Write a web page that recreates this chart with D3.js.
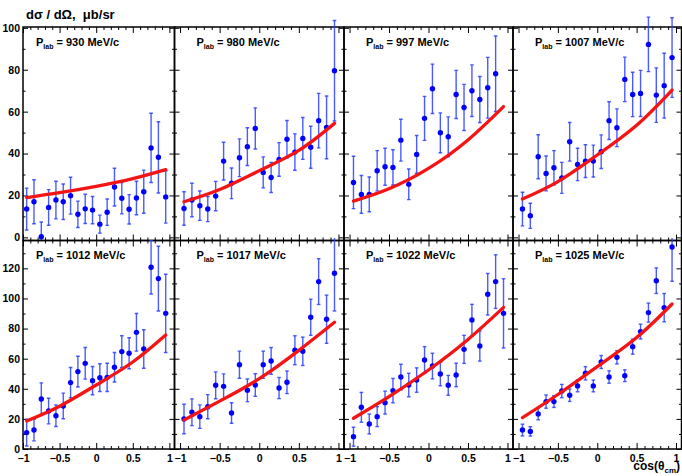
<!DOCTYPE html>
<html>
<head>
<meta charset="utf-8">
<script src="https://cdn.jsdelivr.net/npm/d3@7"></script>
<style>
  body { margin: 0; background: #fff; }
  svg { display: block; font-family: "Liberation Sans", Arial, sans-serif; font-weight: bold; }
</style>
</head>
<body>
<div id="chart"></div>
<script>
// cos(theta_cm) bin centres
const cosTheta = [-0.95, -0.85, -0.75, -0.65, -0.55, -0.45, -0.35, -0.25, -0.15, -0.05,
                  0.05, 0.15, 0.25, 0.35, 0.45, 0.55, 0.65, 0.75, 0.85, 0.95];
const momenta = [930, 980, 997, 1007, 1012, 1017, 1022, 1025];

// dsigma/dOmega (mub/sr) and errors
const xs930  = [13.5, 17, 0.3, 14.3, 17.8, 17, 19.9, 11, 13.6, 13, 6.3, 12, 24, 18.7, 13.4, 18.8, 21.8, 42.7, 38.2, 19.3];
const er930  = [10, 10.5, 7, 8.5, 9, 8.5, 8.8, 6.3, 7, 6.5, 4.3, 6.3, 9, 7.5, 7, 8, 10.3, 16.5, 17, 12.5];
const xs980  = [13.8, 17.8, 15.1, 13.5, 19.7, 36.4, 25.8, 38, 43.3, 52, 31, 28.6, 37.2, 46.8, 40.7, 47.2, 43, 55.7, 52.5, 79.5];
const er980  = [8, 8, 7, 6, 7, 9, 7.3, 9, 9, 9.8, 7.4, 7.2, 8, 9, 8.7, 10, 10, 13, 15, 24];
const xs997  = [26.2, 20.5, 20.5, 31.8, 33.7, 33.4, 46.4, 25.3, 39.6, 56.8, 70.9, 49.9, 48, 68.2, 62, 70, 65.8, 71.4, 78.1, null];
const er997  = [12.5, 9, 8.3, 9.6, 8.8, 8.4, 10, 7.3, 9, 10.5, 11.8, 9.5, 9.5, 11.5, 11, 12.3, 11, 14.5, 18, null];
const xs1007 = [13.5, 10.3, 38.5, 30.5, 33.2, 28.4, 45.6, 34.8, 36.4, 36.4, 40.9, 55.7, 52.3, 75.4, 68.2, 68.7, 92.1, 67.9, 72.4, 85.8];
const er1007 = [8, 6, 10.5, 8.3, 8.2, 7.4, 9.2, 7.7, 7.8, 7.6, 8, 9, 9, 10.6, 10.6, 11, 13, 13, 15.5, 19];
const xs1012 = [10.9, 12.6, 33.2, 25.2, 22.1, 28.6, 44.1, 51.4, 56.9, 45.4, 47.4, 47.6, 54.3, 64.7, 63.6, 77.5, 66.4, 120.7, 113.2, 90.1];
const er1012 = [8.9, 7.2, 10.7, 8.5, 7.2, 8.5, 10, 10.2, 10.5, 9.4, 9.2, 9.4, 9.8, 10.5, 10.3, 12.5, 12.8, 17.7, 21.5, 26];
const xs1017 = [19.9, 24.4, 21.5, 28.1, 42.3, 41.6, 23.9, 56, 39, 42.5, 56, 58.5, 40.5, 44.3, 65.6, 64.9, 87.5, 111.2, 86.2, 116.7];
const er1017 = [9.8, 8.9, 7.8, 8, 8.9, 8.3, 6.8, 9, 7.5, 7.5, 9, 8.9, 7, 7.5, 9.6, 9.4, 12, 15.2, 16, 25];
const xs1022 = [8.2, 27.7, 16.6, 21.5, 30.8, 38.8, 47.8, 42.5, 45.8, 59.1, 55.1, 49.8, 42.3, 49.2, 66.2, 85.7, 68.4, 102.8, 111.2, 90.1];
const er1022 = [6.3, 9.9, 6.6, 6.6, 7.6, 8.1, 8.5, 7.8, 8.1, 8.9, 8.5, 7.8, 6.6, 7.8, 9.3, 10.4, 10, 13.8, 17.8, 23];
const xs1025 = [12.6, 11.7, 23.3, 31.5, 31.5, 38.5, 35.7, 41.9, 50.3, 41.9, 57.8, 47.8, 60.9, 48.7, 68, 78, 90.6, 111.8, 93.9, 134.2];
const er1025 = [3.9, 3.1, 3.9, 4.4, 3.9, 4.4, 4.1, 3.9, 4.4, 3.9, 4.3, 4.1, 4.4, 3.9, 5, 4.9, 6.3, 8.5, 9.4, 22.8];

// model curves, sampled from the figure
const curveX   = [-0.95, -0.5, 0, 0.5, 0.95];
const fit930   = [19, 21.3, 24.3, 28, 32.3];
const fit980   = [17, 22.8, 31.8, 41.5, 54.4];
const fit997   = [17.3, 23.2, 32.9, 46.5, 62.4];
const fit1007  = [18.3, 26.6, 39.3, 53.5, 70.3];
const fit1012  = [18.6, 28.4, 42.5, 57.8, 75.7];
const fit1017  = [19.3, 31.8, 46.7, 65.5, 84.2];
const fit1022  = [20.4, 34.8, 52.5, 72.8, 94.1];
const fit1025  = [20.8, 36.2, 54.7, 74, 96.3];

const yTicksTop = [0, 20, 40, 60, 80, 100];
const yMinorTop = [10, 30, 50, 70, 90];
const yTicksBottom = [0, 20, 40, 60, 80, 100, 120];
const yMinorBottom = [10, 30, 50, 70, 90, 110, 130];
const xTicks = [-1, -0.5, 0, 0.5, 1];
const xMinor = [-0.9, -0.8, -0.7, -0.6, -0.4, -0.3, -0.2, -0.1, 0.1, 0.2, 0.3, 0.4, 0.6, 0.7, 0.8, 0.9];

const values = [xs930, xs980, xs997, xs1007, xs1012, xs1017, xs1022, xs1025];
const errors = [er930, er980, er997, er1007, er1012, er1017, er1022, er1025];
const fits = [fit930, fit980, fit997, fit1007, fit1012, fit1017, fit1022, fit1025];

// layout
const W = 682, H = 476;
const cols = [
  { x0: 23, x1: 174.5, dom: [-1.0, 1.07], lab: 36 },
  { x0: 174.5, x1: 344, dom: [-1.07, 1.07], lab: 196.5 },
  { x0: 344, x1: 513, dom: [-1.07, 1.07], lab: 366 },
  { x0: 513, x1: 681.5, dom: [-1.07, 1.07], lab: 535 }
];
const rows = [
  { y0: 27, y1: 240.5, dom: [-1.5, 100.4], ticks: yTicksTop, minor: yMinorTop, clipTop: 0 },
  { y0: 240.5, y1: 449, dom: [0, 138.5], ticks: yTicksBottom, minor: yMinorBottom, clipTop: 238 }
];

const svg = d3.select('#chart').append('svg').attr('width', W).attr('height', H);
const fmt = d3.format('~g');

momenta.forEach((p, i) => {
  const r = Math.floor(i / 4), c = i % 4;
  const col = cols[c], row = rows[r];
  const w = col.x1 - col.x0, h = row.y1 - row.y0;
  const x = d3.scaleLinear().domain(col.dom).range([0, w]);
  const y = d3.scaleLinear().domain(row.dom).range([h, 0]);

  const g = svg.append('g').attr('transform', `translate(${col.x0},${row.y0})`);

  svg.append('clipPath').attr('id', `clip${i}`).append('rect')
    .attr('x', -2).attr('y', row.clipTop - row.y0).attr('width', w + 4).attr('height', row.y1 - row.clipTop);

  // axes, ticks inside the frame on all sides
  const axisStyle = sel => {
    sel.select('.domain').remove();
    sel.selectAll('.tick line').attr('stroke', '#000').attr('stroke-width', 1);
    sel.selectAll('.tick text').attr('font-size', 10.5).attr('font-weight', 'bold').attr('fill', '#000')
      .attr('font-family', '"Liberation Sans", Arial, sans-serif');
  };
  g.append('g').call(d3.axisLeft(y).tickValues(row.ticks).tickSize(-5).tickPadding(3)
    .tickFormat(c === 0 ? fmt : () => '')).call(axisStyle);
  g.append('g').call(d3.axisLeft(y).tickValues(row.minor).tickSize(-2.5).tickFormat(() => '')).call(axisStyle);
  g.append('g').attr('transform', `translate(${w},0)`)
    .call(d3.axisRight(y).tickValues(row.ticks).tickSize(-5).tickFormat(() => '')).call(axisStyle);
  g.append('g').attr('transform', `translate(${w},0)`)
    .call(d3.axisRight(y).tickValues(row.minor).tickSize(-2.5).tickFormat(() => '')).call(axisStyle);
  g.append('g').attr('transform', `translate(0,${h})`)
    .call(d3.axisBottom(x).tickValues(xTicks).tickSize(-6).tickPadding(6)
      .tickFormat(r === 1 ? fmt : () => '')).call(axisStyle);
  g.append('g').attr('transform', `translate(0,${h})`)
    .call(d3.axisBottom(x).tickValues(xMinor).tickSize(-3).tickFormat(() => '')).call(axisStyle);
  g.append('g').call(d3.axisTop(x).tickValues(xTicks).tickSize(-6).tickFormat(() => '')).call(axisStyle);
  g.append('g').call(d3.axisTop(x).tickValues(xMinor).tickSize(-3).tickFormat(() => '')).call(axisStyle);

  g.append('rect').attr('width', w).attr('height', h)
    .attr('fill', 'none').attr('stroke', '#000').attr('stroke-width', 1.5);

  // data points with error bars
  const pts = cosTheta.map((cx, k) => ({ cx, v: values[i][k], e: errors[i][k] })).filter(d => d.v != null);
  const data = g.append('g').attr('clip-path', `url(#clip${i})`);
  const eb = data.selectAll('g.eb').data(pts).join('g').attr('class', 'eb')
    .attr('stroke', '#2a3fff').attr('stroke-width', 1.4).attr('stroke-opacity', 0.85);
  eb.append('line').attr('x1', d => x(d.cx)).attr('x2', d => x(d.cx))
    .attr('y1', d => y(d.v - d.e)).attr('y2', d => y(d.v + d.e));
  eb.append('line').attr('x1', d => x(d.cx) - 1.8).attr('x2', d => x(d.cx) + 1.8)
    .attr('y1', d => y(d.v - d.e)).attr('y2', d => y(d.v - d.e));
  eb.append('line').attr('x1', d => x(d.cx) - 1.8).attr('x2', d => x(d.cx) + 1.8)
    .attr('y1', d => y(d.v + d.e)).attr('y2', d => y(d.v + d.e));

  // model curve
  const line = d3.line().x(d => x(d[0])).y(d => y(d[1])).curve(d3.curveNatural);
  g.append('path').datum(curveX.map((cx, k) => [cx, fits[i][k]]))
    .attr('fill', 'none').attr('stroke', '#f41414').attr('stroke-width', 3.3)
    .attr('stroke-linecap', 'round').attr('d', line);

  data.selectAll('circle').data(pts).join('circle')
    .attr('cx', d => x(d.cx)).attr('cy', d => y(d.v)).attr('r', 2.7).attr('fill', '#0000ff');

  // panel label
  const t = svg.append('text').attr('x', col.lab).attr('y', row.y0 + 18.5).attr('font-size', 11).attr('fill', '#000');
  t.append('tspan').text('P');
  t.append('tspan').attr('font-size', 7).attr('dy', 3).text('lab');
  t.append('tspan').attr('dy', -3).text(` = ${p} MeV/c`);
});

// titles
svg.append('text').attr('x', 26).attr('y', 19).attr('font-size', 13).attr('fill', '#000')
  .style('white-space', 'pre')
  .text('d\u03c3 / d\u03a9,\u00a0\u00a0\u03bcb/sr');
const xl = svg.append('text').attr('x', 680).attr('y', 470).attr('text-anchor', 'end')
  .attr('font-size', 12).attr('fill', '#000');
xl.append('tspan').text('cos(\u03b8');
xl.append('tspan').attr('font-size', 8).attr('dy', 2.5).text('cm');
xl.append('tspan').attr('dy', -2.5).text(')');
</script>
</body>
</html>
